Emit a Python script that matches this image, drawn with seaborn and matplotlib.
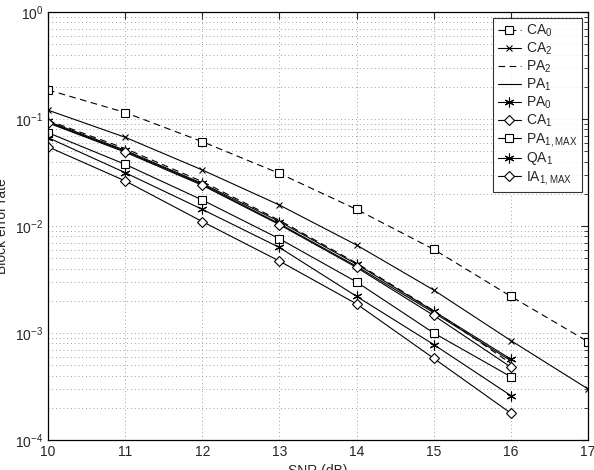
import matplotlib
matplotlib.use("Agg")
import matplotlib.pyplot as plt
import seaborn as sns
import numpy as np

snr = [10, 11, 12, 13, 14, 15, 16, 17]
snr16 = snr[:7]

ca0 = [0.187, 0.115, 0.0614, 0.031, 0.0143, 0.00605, 0.0022, 0.00083]
ca2 = [0.121, 0.0675, 0.0334, 0.0157, 0.00664, 0.00252, 0.00085, 0.0003]
pa2 = [0.097, 0.053, 0.026, 0.0113, 0.0045, 0.00162, 0.00052]
pa1 = [0.093, 0.050, 0.0245, 0.0105, 0.0042, 0.00155, 0.00055]
pa0 = [0.095, 0.051, 0.025, 0.011, 0.0044, 0.0016, 0.00057]
ca1 = [0.092, 0.049, 0.024, 0.0103, 0.0041, 0.00146, 0.00048]
pa1max = [0.0745, 0.0377, 0.0175, 0.0076, 0.0030, 0.0010, 0.00039]
qa1 = [0.067, 0.0315, 0.0143, 0.0063, 0.0022, 0.00078, 0.00026]
ia1max = [0.055, 0.0264, 0.011, 0.0047, 0.00187, 0.00058, 0.000178]

sns.set_style("white")
plt.rcParams['font.family'] = ['Liberation Sans', 'DejaVu Sans']
plt.rcParams['mathtext.default'] = 'regular'

fig = plt.figure(figsize=(5.94, 4.70), dpi=100)
ax = fig.add_axes([48 / 594, 1 - 440 / 470, 540 / 594, 428 / 470])

ast = (6, 2, 0)  # asterisk like matlab '*'
series = [
    (snr, ca0, r'CA$_0$', dict(marker='s', linestyle=(0, (6, 4)), mfc='white', ms=6)),
    (snr, ca2, r'CA$_2$', dict(marker='x', linestyle='-', ms=5)),
    (snr16, pa2, r'PA$_2$', dict(marker=None, linestyle=(0, (6, 4)))),
    (snr16, pa1, r'PA$_1$', dict(marker=None, linestyle='-')),
    (snr16, pa0, r'PA$_0$', dict(marker=ast, linestyle='-', ms=7)),
    (snr16, ca1, r'CA$_1$', dict(marker='D', linestyle='-', mfc='white', ms=5)),
    (snr16, pa1max, r'PA$_{1,MAX}$', dict(marker='s', linestyle='-', mfc='white', ms=6)),
    (snr16, qa1, r'QA$_1$', dict(marker=ast, linestyle='-', ms=7)),
    (snr16, ia1max, r'IA$_{1,MAX}$', dict(marker='D', linestyle='-', mfc='white', ms=5)),
]

for xs, ys, lab, kw in series:
    sns.lineplot(x=xs, y=ys, ax=ax, color='k', linewidth=0.8,
                 markeredgewidth=0.8, markeredgecolor='k', label=lab, **kw)

ax.set_yscale('log')
ax.set_xlim(10, 17)
ax.set_ylim(1e-4, 1)
ax.set_xticks(snr)
ax.set_xticklabels([str(s) for s in snr])
gkw = dict(linestyle=(0, (1, 3.5)), color='0.5', linewidth=0.6)
ax.grid(True, which='major', axis='both', **gkw)
ax.grid(True, which='minor', axis='y', **gkw)
ax.tick_params(which='both', direction='in', top=True, right=True, labelsize=10)
ax.tick_params(which='major', length=5)
ax.tick_params(which='minor', length=3)
for s in ax.spines.values():
    s.set_visible(True)
    s.set_color('k')
    s.set_linewidth(0.9)

ax.set_xlabel("SNR (dB)", fontsize=10, labelpad=4)
ax.set_ylabel("Block error rate", fontsize=10, labelpad=4)

leg = ax.legend(loc='upper right', fontsize=10, frameon=True, fancybox=False,
                edgecolor='k', handlelength=1.6, labelspacing=0.12,
                borderaxespad=0.4, handletextpad=0.4, borderpad=0.35)
leg.get_frame().set_linewidth(0.8)

fig.savefig('out.png', dpi=100)
